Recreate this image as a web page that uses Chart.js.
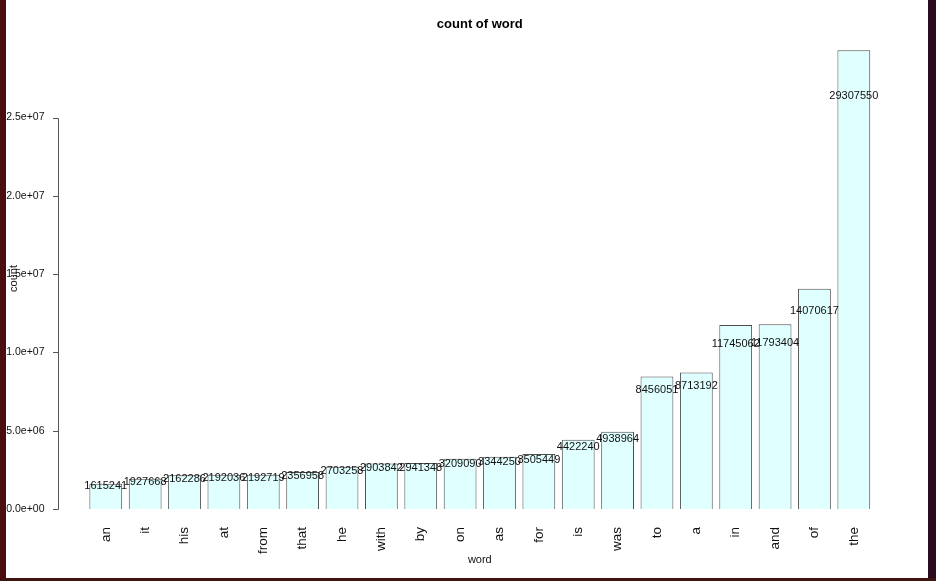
<!DOCTYPE html>
<html>
<head>
<meta charset="utf-8">
<script src="https://cdn.jsdelivr.net/npm/chart.js@4/dist/chart.umd.min.js"></script>
<style>
  html, body { margin: 0; padding: 0; background: #3a0d14; }
  #frame { position: relative; width: 936px; height: 581px; overflow: hidden; background: #3b0f12; }
  #leftStrip { position: absolute; left: 0; top: 0; width: 6px; height: 581px; background: #4a0e0f; }
  #rightStrip { position: absolute; left: 928px; top: 0; width: 8px; height: 581px; background: #2c0b20; }
  #bottomStrip { position: absolute; left: 0; top: 578px; width: 936px; height: 3px; background: #3e1310; }
  #paper { position: absolute; left: 6px; top: 0; width: 922px; height: 578px; background: #ffffff; }
  canvas { display: block; }
</style>
</head>
<body>
<div id="frame">
  <div id="leftStrip"></div>
  <div id="rightStrip"></div>
  <div id="bottomStrip"></div>
  <div id="paper"><canvas id="c" width="922" height="578"></canvas></div>
</div>
<script>
const words = ["an","it","his","at","from","that","he","with","by","on","as","for","is","was","to","a","in","and","of","the"];
const counts = [1615241,1927668,2162286,2192036,2192719,2356958,2703258,2903842,2941348,3209090,3344250,3505449,4422240,4938964,8456051,8713192,11745062,11793404,14070617,29307550];
const yTickValues = [0, 5000000, 10000000, 15000000, 20000000, 25000000];
const chartTitle = "count of word";
const xTitle = "word";
const yTitle = "count";

const FONT = "'Liberation Sans', Arial, Helvetica, sans-serif";

function rExp(v) {
  const s = Number(v).toExponential(1);
  const parts = s.split('e');
  let exp = parts[1];
  const sign = exp[0] === '-' ? '-' : '+';
  exp = exp.replace(/^[+-]/, '');
  if (exp.length < 2) exp = '0' + exp;
  return parts[0] + 'e' + sign + exp;
}

const rAxisPlugin = {
  id: 'rAxis',
  afterDraw(chart) {
    const ys = chart.scales.y;
    const ctx = chart.ctx;
    const ax = 52.5;
    const yTop = ys.getPixelForValue(yTickValues[yTickValues.length - 1]);
    const yBot = ys.getPixelForValue(yTickValues[0]);
    ctx.save();
    ctx.strokeStyle = '#555';
    ctx.lineWidth = 1;
    ctx.beginPath();
    ctx.moveTo(ax, Math.round(yTop) + 0.5);
    ctx.lineTo(ax, Math.round(yBot) + 0.5);
    yTickValues.forEach(v => {
      const py = Math.round(ys.getPixelForValue(v)) + 0.5;
      ctx.moveTo(ax - 5.5, py);
      ctx.lineTo(ax, py);
    });
    ctx.stroke();
    ctx.restore();
  }
};

const valueLabelPlugin = {
  id: 'valueLabels',
  afterDatasetsDraw(chart) {
    const ctx = chart.ctx;
    const meta = chart.getDatasetMeta(0);
    const ys = chart.scales.y;
    ctx.save();
    ctx.font = '11px ' + FONT;
    ctx.fillStyle = '#111';
    ctx.textAlign = 'center';
    ctx.textBaseline = 'middle';
    meta.data.forEach((bar, i) => {
      const v = counts[i];
      ctx.fillText(String(v), bar.x, ys.getPixelForValue(v * 0.9));
    });
    ctx.restore();
  }
};

new Chart(document.getElementById('c'), {
  type: 'bar',
  data: {
    labels: words,
    datasets: [{
      data: counts,
      backgroundColor: '#E0FFFF',
      borderColor: '#4d4d4d',
      borderWidth: 1,
      barPercentage: 0.833,
      categoryPercentage: 1.0
    }]
  },
  options: {
    responsive: false,
    animation: false,
    layout: { padding: { left: 0, right: 54.5, top: 0, bottom: 0 } },
    plugins: {
      legend: { display: false },
      tooltip: { enabled: false },
      title: {
        display: true,
        text: chartTitle,
        fullSize: false,
        color: '#000',
        font: { family: FONT, size: 13, weight: 'bold' },
        padding: { top: 0, bottom: 15.5 }
      }
    },
    scales: {
      x: {
        type: 'category',
        offset: true,
        border: { display: false },
        grid: { display: false, drawTicks: false },
        ticks: {
          color: '#111',
          font: { family: FONT, size: 13.5 },
          minRotation: 90,
          maxRotation: 90,
          padding: 18,
          autoSkip: false
        },
        title: {
          display: true,
          text: xTitle,
          color: '#111',
          font: { family: FONT, size: 11 },
          padding: { top: 0, bottom: 11 }
        },
        afterFit(scale) { scale.height = 69; }
      },
      y: {
        type: 'linear',
        min: 0,
        max: 29450000,
        border: { display: false },
        grid: { display: false, drawTicks: false },
        ticks: {
          color: '#111',
          font: { family: FONT, size: 10.5 },
          padding: 41.6,
          includeBounds: false,
          callback: (v) => rExp(v)
        },
        afterBuildTicks(scale) {
          scale.ticks = yTickValues.map(v => ({ value: v }));
        },
        title: {
          display: true,
          text: yTitle,
          color: '#111',
          font: { family: FONT, size: 11 },
          padding: { top: 1, bottom: 0 }
        },
        afterFit(scale) { scale.width = 80.1; }
      }
    }
  },
  plugins: [rAxisPlugin, valueLabelPlugin]
});
</script>
</body>
</html>
